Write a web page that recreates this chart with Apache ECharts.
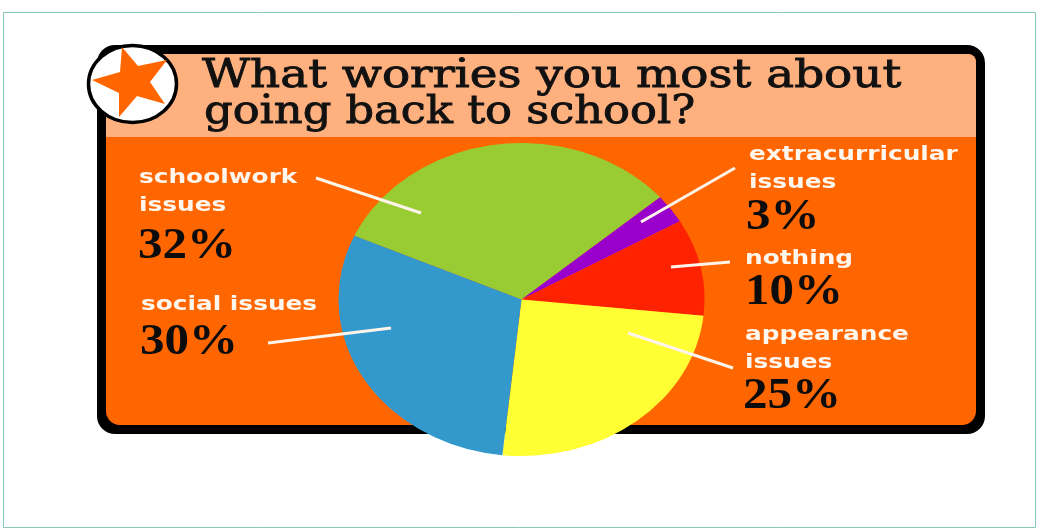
<!DOCTYPE html>
<html><head><meta charset="utf-8">
<style>html,body{margin:0;padding:0;background:#fff}#c{width:1038px;height:529px;filter:blur(0.4px)}</style>
<script src="https://cdn.jsdelivr.net/npm/echarts@6/dist/echarts.min.js"></script>
</head><body><div id="c"></div>
<script>
const titleLines = ["What worries you most about", "going back to school?"];
const categories = ["schoolwork\nissues", "extracurricular\nissues", "nothing", "appearance\nissues", "social issues"];
const values = [32, 3, 10, 25, 30];
const colors = ["#99CC33", "#9900CC", "#FF2200", "#FFFF33", "#3399CC"];

// layout, separate from the data
const pie = {cx: 521.5, cy: 299.5, rx: 183, ry: 156.5, start: -156};
const labelPos = [[139, 164], [749, 141], [745, 245], [745, 321], [141, 291]];
const pctPos = [[138, 269], [746, 240], [745, 315], [743, 419], [140, 365]];
const leaders = [
  [[316, 178], [421, 213]],
  [[735, 168], [641, 222]],
  [[730, 262], [671, 267]],
  [[733, 368], [628, 333]],
  [[268, 343], [391, 328]]
];

const total = values.reduce((a, b) => a + b, 0);
const graphic = [
  {type: 'rect', z: 0, shape: {x: 97, y: 45, width: 888, height: 389, r: 18}, style: {fill: '#000'}},
  {type: 'rect', z: 1, shape: {x: 106, y: 54, width: 870, height: 371, r: [8, 8, 14, 14]}, style: {fill: '#FF6600'}},
  {type: 'rect', z: 1, shape: {x: 106, y: 54, width: 870, height: 83, r: [8, 8, 0, 0]}, style: {fill: '#FFB07F'}},
  {type: 'rect', z: 20, shape: {x: 3.5, y: 12.5, width: 1032, height: 515}, style: {fill: 'none', stroke: '#86C8BC', lineWidth: 1}},
  {type: 'ellipse', z: 5, shape: {cx: 132.5, cy: 84, rx: 44, ry: 38.5}, style: {fill: '#fff', stroke: '#000', lineWidth: 3.5}},
  {type: 'polygon', z: 6, shape: {points: [[122, 47], [138, 66], [167, 60], [150, 82], [165, 104], [137, 96], [119, 117], [119, 93], [92, 80], [120, 72]]}, style: {fill: '#FF6600'}},
  {type: 'text', z: 6, x: 202, y: 77, scaleX: 1.17, style: {text: titleLines[0], font: '40px "DejaVu Serif"', fill: '#111', stroke: '#111', lineWidth: 0.9, verticalAlign: 'middle'}},
  {type: 'text', z: 6, x: 204, y: 113, scaleX: 1.118, style: {text: titleLines[1], font: '40px "DejaVu Serif"', fill: '#111', stroke: '#111', lineWidth: 0.9, verticalAlign: 'middle'}}
];
categories.forEach((c, i) => {
  graphic.push({type: 'polyline', z: 10, shape: {points: leaders[i]}, style: {stroke: '#FFF4EA', lineWidth: 3, fill: 'none'}});
  graphic.push({type: 'text', z: 11, x: labelPos[i][0], y: labelPos[i][1], scaleX: 1.24, style: {text: c, font: 'bold 20px "DejaVu Sans"', lineHeight: 28, fill: '#FFF6EE'}});
  graphic.push({type: 'text', z: 11, x: pctPos[i][0], y: pctPos[i][1], scaleX: 1.09, style: {text: values[i] + '%', font: 'bold 45px "Liberation Serif"', fill: '#0c0c0c', verticalAlign: 'bottom'}});
});

const chart = echarts.init(document.getElementById('c'), null, {renderer: 'canvas'});
chart.setOption({
  animation: false,
  backgroundColor: '#fff',
  graphic: {elements: graphic},
  series: [{
    type: 'custom',
    coordinateSystem: 'none',
    z: 3,
    data: values.map((v, i) => ({value: [v, i], name: categories[i]})),
    renderItem(params, api) {
      const i = api.value(1);
      const before = values.slice(0, i).reduce((a, b) => a + b, 0);
      const a0 = (pie.start + before / total * 360) * Math.PI / 180;
      const a1 = a0 + api.value(0) / total * 2 * Math.PI;
      return {
        type: 'sector',
        x: pie.cx, y: pie.cy, scaleY: pie.ry / pie.rx,
        shape: {cx: 0, cy: 0, r0: 0, r: pie.rx, startAngle: a0, endAngle: a1, clockwise: true},
        style: {fill: colors[i]}
      };
    }
  }]
});
</script></body></html>
